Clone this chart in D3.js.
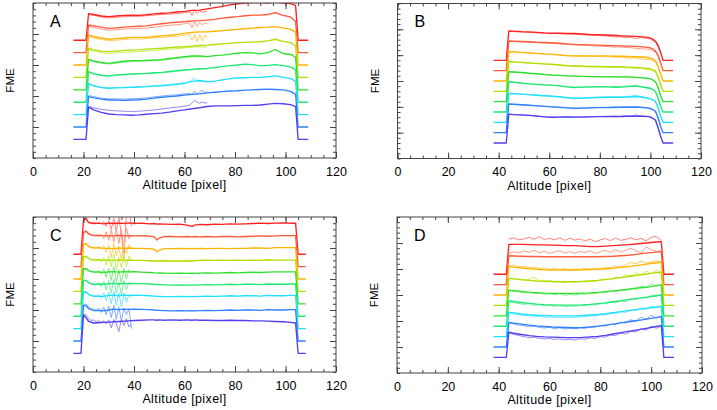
<!DOCTYPE html>
<html><head><meta charset="utf-8">
<script src="https://cdn.jsdelivr.net/npm/d3@7"></script>
<style>
body{margin:0;background:#fff;}
svg{display:block;}
text{font-family:"Liberation Sans",Arial,sans-serif;}
</style>
</head><body>
<svg id="chart" width="717" height="410"></svg>
<script>
// ---------- shared data ----------
const baselines = [3.8,3.4,3.0,2.6,2.2,1.8,1.4,1.0,0.6];
const thickColors = ["#ff2020","#ff5a3a","#ffb400","#b0e000","#30e030","#20e878","#20e0ff","#3080ff","#5040f0"];
const thinColors  = ["#ff8080","#ff9c86","#ffd060","#cdee55","#80ec80","#78f0aa","#70e8ff","#80acff","#9888f6"];
const xTicks = [0,20,40,60,80,100,120];
const xTitle = "Altitude  [pixel]";
const yTitle = "FME";

// ---------- panel A ----------
const aEdges = [16,21,105,109];
const aX = [22,24,27,30,33,36,39,42,45,48,51,54,57,60,63,66,69,72,75,78,81,84,87,90,93,96,99,102,104];
const aThick = [
 [4.66,4.63,4.58,4.56,4.58,4.60,4.61,4.60,4.62,4.65,4.67,4.68,4.71,4.73,4.76,4.77,4.81,4.85,4.89,4.94,4.97,5.00,5.02,5.01,5.00,5.03,5.00,4.98,4.92],
 [4.29,4.26,4.22,4.18,4.20,4.22,4.24,4.25,4.26,4.30,4.33,4.36,4.38,4.40,4.42,4.43,4.45,4.47,4.51,4.54,4.56,4.59,4.61,4.61,4.63,4.69,4.60,4.55,4.40],
 [3.97,3.92,3.87,3.83,3.85,3.87,3.89,3.89,3.89,3.92,3.94,3.96,3.99,4.02,4.05,4.07,4.07,4.09,4.11,4.13,4.15,4.17,4.19,4.21,4.22,4.24,4.20,4.15,4.05],
 [3.54,3.49,3.45,3.43,3.45,3.47,3.48,3.49,3.51,3.53,3.54,3.56,3.58,3.59,3.61,3.63,3.64,3.66,3.68,3.70,3.72,3.73,3.74,3.75,3.78,3.83,3.76,3.72,3.62],
 [3.18,3.13,3.08,3.05,3.09,3.12,3.14,3.14,3.15,3.16,3.17,3.21,3.24,3.27,3.29,3.29,3.27,3.30,3.32,3.35,3.38,3.40,3.39,3.36,3.40,3.50,3.37,3.34,3.25],
 [2.79,2.72,2.67,2.65,2.68,2.70,2.71,2.72,2.73,2.75,2.76,2.79,2.82,2.84,2.86,2.88,2.89,2.92,2.95,2.98,3.00,3.03,3.01,2.97,2.99,3.01,2.98,2.94,2.85],
 [2.41,2.33,2.27,2.25,2.26,2.27,2.28,2.29,2.30,2.32,2.33,2.35,2.38,2.41,2.47,2.50,2.46,2.48,2.52,2.56,2.58,2.59,2.60,2.60,2.62,2.65,2.61,2.56,2.48],
 [1.98,1.94,1.90,1.87,1.87,1.86,1.87,1.88,1.90,1.93,1.96,1.98,2.00,2.03,2.05,2.07,2.10,2.12,2.14,2.16,2.17,2.19,2.20,2.21,2.22,2.21,2.20,2.15,2.05],
 [1.64,1.55,1.47,1.42,1.40,1.39,1.38,1.39,1.41,1.43,1.45,1.48,1.52,1.55,1.59,1.62,1.66,1.68,1.68,1.68,1.69,1.70,1.70,1.71,1.74,1.76,1.75,1.72,1.66]
];
const aThinX = [22,24,27,30,33,36,39,42,45,48,51,54,57,60,62,63,64,65,66,67,68,69];
const aThin = [
 [4.63,4.60,4.55,4.52,4.54,4.56,4.57,4.57,4.59,4.61,4.63,4.64,4.66,4.69,4.72,4.60,4.78,4.66,4.74,4.70,4.73,4.72],
 [4.25,4.21,4.16,4.12,4.14,4.16,4.17,4.18,4.19,4.22,4.25,4.28,4.30,4.33,4.36,4.20,4.40,4.25,4.38,4.30,4.36,4.34],
 [3.93,3.87,3.82,3.79,3.80,3.82,3.84,3.84,3.85,3.87,3.89,3.91,3.93,3.96,3.98,3.80,4.00,3.75,3.98,3.78,3.95,3.90],
 [3.50,3.45,3.40,3.37,3.39,3.41,3.42,3.43,3.45,3.47,3.49,3.51,3.53,3.55,3.57,3.56,3.60,3.57,3.59,3.57,3.58,3.57],
 [3.16,3.11,3.06,3.03,3.06,3.09,3.11,3.12,3.13,3.14,3.16,3.19,3.21,3.24,3.26,3.25,3.28,3.26,3.28,3.26,3.27,3.26],
 [2.77,2.71,2.66,2.64,2.66,2.68,2.70,2.71,2.72,2.73,2.75,2.77,2.80,2.82,2.85,2.84,2.88,2.86,2.88,2.87,2.88,2.87],
 [2.40,2.33,2.28,2.26,2.27,2.28,2.29,2.30,2.31,2.33,2.35,2.37,2.39,2.42,2.46,2.53,2.58,2.50,2.47,2.48,2.47,2.46],
 [2.02,1.98,1.93,1.91,1.91,1.90,1.91,1.92,1.94,1.97,2.00,2.02,2.04,2.07,2.08,2.05,2.16,2.06,2.12,2.20,2.10,2.15],
 [1.66,1.62,1.57,1.54,1.52,1.51,1.50,1.51,1.53,1.55,1.58,1.61,1.64,1.67,1.70,1.78,1.86,1.80,1.77,1.80,1.78,1.77]
];

// ---------- panel B ----------
const bEdges = [38,43,105,109];
const bX = [44,46,49,52,55,58,61,64,67,70,73,76,79,82,85,88,91,94,97,99,100,101,102,103,104];
const bThick = [
 [4.94,4.93,4.91,4.90,4.88,4.86,4.85,4.85,4.84,4.84,4.82,4.80,4.79,4.78,4.77,4.75,4.74,4.73,4.71,4.69,4.66,4.62,4.54,4.38,4.12],
 [4.55,4.54,4.53,4.52,4.50,4.49,4.48,4.46,4.44,4.42,4.41,4.40,4.39,4.38,4.37,4.36,4.35,4.34,4.32,4.30,4.28,4.24,4.16,4.00,3.72],
 [4.14,4.13,4.11,4.09,4.07,4.05,4.04,4.01,3.98,3.97,3.97,3.97,3.97,3.97,3.96,3.96,3.95,3.94,3.93,3.91,3.89,3.85,3.78,3.58,3.28],
 [3.75,3.74,3.72,3.70,3.68,3.66,3.65,3.62,3.59,3.58,3.57,3.56,3.56,3.55,3.55,3.55,3.54,3.53,3.51,3.49,3.47,3.43,3.38,3.18,2.88],
 [3.36,3.35,3.33,3.30,3.28,3.25,3.23,3.22,3.20,3.19,3.18,3.17,3.17,3.16,3.16,3.16,3.16,3.14,3.12,3.10,3.08,3.04,2.97,2.77,2.44],
 [2.97,2.95,2.92,2.89,2.87,2.85,2.84,2.81,2.77,2.75,2.76,2.77,2.78,2.77,2.76,2.76,2.78,2.80,2.76,2.73,2.71,2.67,2.59,2.35,2.03],
 [2.52,2.51,2.49,2.47,2.45,2.43,2.41,2.39,2.35,2.33,2.33,2.35,2.36,2.37,2.37,2.37,2.38,2.40,2.37,2.33,2.31,2.27,2.20,1.96,1.64],
 [2.11,2.10,2.08,2.06,2.04,2.02,2.00,1.98,1.96,1.94,1.95,1.96,1.97,1.97,1.97,1.98,1.98,1.99,1.97,1.95,1.93,1.89,1.82,1.58,1.25],
 [1.72,1.70,1.69,1.67,1.64,1.61,1.59,1.60,1.61,1.60,1.60,1.61,1.62,1.62,1.62,1.62,1.63,1.64,1.63,1.62,1.60,1.55,1.48,1.20,0.87]
];
const bThinX = [44,48,52,56,60,64,68,72,76,80,84,86,88,90,92,94,96,98,100,102,103,104];
const bThin = [
 [4.92,4.90,4.88,4.86,4.84,4.83,4.82,4.80,4.78,4.76,4.73,4.70,4.72,4.67,4.70,4.64,4.68,4.66,4.62,4.50,4.33,4.08],
 [4.54,4.52,4.50,4.48,4.46,4.44,4.41,4.39,4.37,4.35,4.33,4.31,4.32,4.30,4.29,4.27,4.25,4.24,4.22,4.12,3.97,3.70],
 [4.13,4.11,4.08,4.06,4.03,4.00,3.97,3.96,3.95,3.95,3.94,3.92,3.93,3.90,3.88,3.90,3.86,3.84,3.83,3.74,3.55,3.26],
 [3.74,3.72,3.69,3.67,3.65,3.62,3.59,3.57,3.55,3.55,3.54,3.52,3.53,3.50,3.52,3.47,3.50,3.45,3.44,3.34,3.15,2.86],
 [3.35,3.33,3.30,3.27,3.24,3.22,3.20,3.18,3.17,3.17,3.16,3.17,3.15,3.17,3.14,3.15,3.12,3.11,3.09,2.96,2.76,2.43],
 [2.96,2.93,2.89,2.86,2.84,2.81,2.77,2.76,2.77,2.78,2.78,2.79,2.77,2.80,2.81,2.84,2.80,2.76,2.73,2.60,2.36,2.05],
 [2.51,2.49,2.47,2.44,2.42,2.39,2.35,2.34,2.35,2.37,2.38,2.39,2.38,2.40,2.41,2.44,2.41,2.36,2.33,2.21,1.97,1.66],
 [2.10,2.08,2.06,2.04,2.01,1.99,1.96,1.95,1.96,1.98,1.99,2.01,2.00,2.02,2.00,2.02,2.00,1.98,1.95,1.84,1.60,1.28],
 [1.71,1.69,1.67,1.64,1.61,1.61,1.61,1.61,1.62,1.63,1.64,1.65,1.64,1.66,1.65,1.68,1.66,1.64,1.62,1.50,1.22,0.90]
];

// ---------- panel C ----------
const cEdges = [16,19,105,108];
const cX = [20,21,22,24,26,28,30,32,34,36,38,40,43,46,48,49,50,52,55,58,61,63,64,66,69,72,75,78,81,84,87,90,93,96,99,102,104];
const cThick = [
 [4.90,4.96,4.82,4.79,4.80,4.78,4.80,4.79,4.80,4.79,4.81,4.79,4.80,4.78,4.79,4.77,4.78,4.77,4.76,4.77,4.74,4.70,4.74,4.76,4.75,4.77,4.76,4.78,4.77,4.78,4.79,4.80,4.79,4.80,4.81,4.80,4.80],
 [4.50,4.55,4.46,4.40,4.41,4.39,4.40,4.39,4.41,4.39,4.40,4.39,4.40,4.38,4.36,4.26,4.32,4.37,4.37,4.36,4.37,4.36,4.37,4.36,4.37,4.36,4.37,4.37,4.36,4.37,4.38,4.39,4.38,4.39,4.40,4.40,4.40],
 [4.12,4.15,4.05,4.00,4.01,3.99,3.99,3.98,4.00,3.99,4.00,3.99,3.99,3.98,3.96,3.88,3.93,3.98,3.98,3.99,3.98,3.99,3.98,3.99,3.98,3.99,3.99,3.98,3.99,3.99,4.00,4.00,3.99,4.01,4.01,4.01,4.01],
 [3.72,3.73,3.66,3.61,3.62,3.60,3.61,3.60,3.62,3.60,3.61,3.60,3.60,3.59,3.58,3.59,3.58,3.59,3.58,3.58,3.59,3.58,3.59,3.60,3.61,3.60,3.61,3.60,3.61,3.60,3.61,3.60,3.62,3.61,3.61,3.61,3.61],
 [3.33,3.34,3.27,3.22,3.23,3.21,3.23,3.24,3.22,3.24,3.23,3.24,3.22,3.21,3.20,3.19,3.20,3.19,3.18,3.19,3.18,3.19,3.18,3.19,3.20,3.19,3.20,3.21,3.20,3.21,3.22,3.21,3.22,3.23,3.23,3.23,3.23],
 [2.95,2.96,2.88,2.82,2.84,2.83,2.85,2.86,2.84,2.86,2.85,2.86,2.85,2.84,2.83,2.82,2.82,2.81,2.80,2.81,2.80,2.81,2.80,2.81,2.82,2.81,2.82,2.83,2.82,2.83,2.83,2.82,2.84,2.83,2.83,2.84,2.84],
 [2.58,2.59,2.50,2.44,2.45,2.44,2.47,2.48,2.46,2.48,2.47,2.48,2.47,2.46,2.45,2.44,2.44,2.43,2.43,2.44,2.43,2.44,2.43,2.44,2.45,2.44,2.45,2.46,2.45,2.46,2.46,2.45,2.47,2.46,2.46,2.47,2.47],
 [2.15,2.14,2.05,1.98,1.99,1.97,2.00,2.03,2.01,2.03,2.02,2.03,2.02,2.01,2.00,1.99,1.99,1.98,1.97,1.98,1.97,1.98,1.97,1.98,1.99,1.98,1.99,2.00,1.99,2.00,2.00,1.99,2.01,2.00,2.00,2.01,2.01],
 [1.84,1.75,1.63,1.58,1.59,1.60,1.61,1.62,1.63,1.64,1.65,1.66,1.67,1.68,1.68,1.67,1.68,1.67,1.68,1.67,1.68,1.67,1.68,1.67,1.67,1.66,1.66,1.67,1.66,1.66,1.65,1.65,1.64,1.63,1.62,1.60,1.58]
];
const cThinX = [20,21,22,23,24,25,26,27,28,29,30,31,32,33,34,35,36,37,38,39];
const cThin = [
 [4.90,4.92,4.84,4.80,4.82,4.79,4.81,4.78,4.85,4.70,4.88,4.60,4.95,4.55,4.98,4.45,3.65,5.10,5.30,4.70],
 [4.50,4.52,4.44,4.41,4.40,4.42,4.38,4.43,4.30,4.52,4.25,4.58,4.20,4.62,4.15,4.60,4.05,4.65,4.30,4.40],
 [4.10,4.12,4.04,4.00,4.02,3.98,4.03,3.95,4.08,3.85,4.10,3.70,4.15,3.75,4.05,3.60,4.20,3.80,4.10,3.95],
 [3.72,3.72,3.66,3.62,3.64,3.60,3.65,3.55,3.70,3.45,3.75,3.40,3.80,3.30,3.70,3.35,3.85,3.40,3.75,3.60],
 [3.33,3.33,3.27,3.23,3.25,3.21,3.27,3.15,3.32,3.05,3.35,2.95,3.40,2.90,3.30,2.85,3.35,3.00,3.30,3.20],
 [2.95,2.95,2.88,2.84,2.86,2.82,2.88,2.75,2.92,2.65,2.95,2.55,3.00,2.55,2.90,2.50,2.95,2.65,2.90,2.80],
 [2.58,2.58,2.50,2.46,2.48,2.44,2.50,2.38,2.55,2.30,2.58,2.20,2.60,2.15,2.55,2.10,2.55,2.25,2.50,2.40],
 [2.15,2.20,2.10,2.02,2.05,1.98,2.06,1.92,2.10,1.85,2.12,1.75,2.15,1.70,2.10,1.65,2.05,1.85,2.05,1.40],
 [1.84,1.85,1.72,1.66,1.68,1.62,1.66,1.60,1.65,1.55,1.68,1.42,1.70,1.55,1.30,1.70,1.50,1.72,1.45,1.55]
];

// ---------- panel D ----------
const dEdges = [38,43,105,109];
const dX = [44,46,49,52,55,58,61,64,67,70,73,76,79,82,85,88,91,94,97,100,102,104];
const dThick = [
 [4.95,4.95,4.95,4.94,4.93,4.93,4.92,4.91,4.90,4.90,4.88,4.86,4.86,4.88,4.90,4.92,4.94,4.96,4.99,5.02,5.04,5.05],
 [4.51,4.50,4.49,4.48,4.48,4.47,4.47,4.47,4.47,4.47,4.47,4.47,4.47,4.48,4.49,4.51,4.53,4.56,4.60,4.63,4.65,4.67],
 [4.09,4.07,4.04,4.01,3.99,3.97,3.96,3.96,3.96,3.96,3.97,3.98,3.99,4.01,4.03,4.06,4.09,4.13,4.17,4.21,4.24,4.26],
 [3.64,3.62,3.59,3.56,3.54,3.53,3.52,3.51,3.51,3.51,3.52,3.54,3.56,3.59,3.63,3.67,3.71,3.75,3.79,3.83,3.86,3.87],
 [3.19,3.17,3.14,3.11,3.09,3.07,3.06,3.06,3.06,3.06,3.07,3.08,3.10,3.13,3.16,3.19,3.22,3.26,3.29,3.32,3.36,3.39],
 [2.77,2.75,2.71,2.68,2.65,2.63,2.62,2.61,2.61,2.61,2.62,2.64,2.67,2.70,2.74,2.78,2.82,2.86,2.90,2.94,2.97,3.00],
 [2.33,2.31,2.27,2.24,2.22,2.21,2.20,2.20,2.20,2.20,2.21,2.23,2.25,2.28,2.32,2.36,2.40,2.44,2.47,2.51,2.53,2.55],
 [1.95,1.92,1.88,1.84,1.81,1.79,1.77,1.76,1.75,1.74,1.75,1.77,1.80,1.84,1.88,1.93,1.97,2.01,2.05,2.10,2.13,2.17],
 [1.57,1.53,1.48,1.44,1.41,1.39,1.38,1.37,1.36,1.36,1.37,1.39,1.41,1.45,1.50,1.55,1.60,1.65,1.70,1.75,1.79,1.82]
];
const dThinX = [44,46,48,50,52,54,56,58,60,62,64,66,68,70,72,74,76,78,80,82,84,86,88,90,92,94,96,98,100,102,104];
const dThin = [
 [5.15,5.20,5.12,5.16,5.22,5.14,5.24,5.13,5.18,5.12,5.20,5.10,5.19,5.11,5.16,5.08,5.15,5.05,5.12,5.17,5.09,5.19,5.10,5.14,5.20,5.12,5.18,5.08,5.22,5.25,5.10],
 [4.60,4.66,4.62,4.70,4.64,4.72,4.62,4.68,4.60,4.66,4.70,4.62,4.67,4.60,4.68,4.63,4.70,4.60,4.66,4.72,4.64,4.74,4.66,4.72,4.80,4.70,4.62,4.85,4.75,4.68,4.70],
 [4.12,4.15,4.08,4.10,4.05,4.08,4.02,4.05,3.99,4.03,3.98,4.02,3.97,4.00,3.98,4.03,3.99,4.04,4.01,4.07,4.05,4.12,4.08,4.16,4.25,4.20,4.30,4.22,4.28,4.32,4.28],
 [3.66,3.62,3.60,3.56,3.60,3.68,3.56,3.52,3.55,3.49,3.53,3.47,3.52,3.48,3.54,3.50,3.56,3.52,3.58,3.62,3.58,3.70,3.65,3.78,3.72,3.85,3.78,3.92,3.82,3.95,3.88],
 [3.18,3.14,3.12,3.08,3.10,3.05,3.08,3.03,3.05,3.01,3.04,2.99,3.02,3.00,3.04,3.02,3.07,3.05,3.10,3.08,3.14,3.12,3.20,3.17,3.26,3.22,3.35,3.28,3.42,3.34,3.40],
 [2.75,2.70,2.67,2.64,2.66,2.60,2.63,2.58,2.60,2.56,2.59,2.55,2.58,2.56,2.60,2.58,2.63,2.62,2.67,2.66,2.72,2.70,2.78,2.75,2.85,2.82,2.92,2.88,3.00,2.95,3.02],
 [2.32,2.27,2.23,2.20,2.22,2.16,2.18,2.14,2.16,2.13,2.15,2.12,2.15,2.13,2.17,2.16,2.20,2.19,2.24,2.23,2.29,2.28,2.35,2.33,2.42,2.40,2.50,2.46,2.58,2.52,2.60],
 [1.93,1.88,1.84,1.82,1.78,1.80,1.75,1.73,1.76,1.70,1.74,1.69,1.72,1.70,1.74,1.72,1.77,1.76,1.82,1.80,1.88,1.86,1.95,1.92,2.05,1.98,2.15,2.06,2.22,2.12,2.20],
 [1.54,1.48,1.44,1.40,1.36,1.38,1.33,1.31,1.33,1.29,1.31,1.28,1.30,1.27,1.32,1.30,1.35,1.33,1.40,1.38,1.46,1.44,1.53,1.50,1.60,1.58,1.70,1.65,1.80,1.72,1.80]
];

// ---------- layout (positions only) ----------
const panels = [
 {label:"A", x0:33,  x1:336, y0:3,   y1:158, yMax:5, edges:aEdges, gx:aX, thick:aThick, tx:aThinX, thin:aThin},
 {label:"B", x0:397.5,x1:701, y0:3.5, y1:158.5, yMax:6, edges:bEdges, gx:bX, thick:bThick, tx:bThinX, thin:bThin},
 {label:"C", x0:33,  x1:336, y0:217, y1:372, yMax:5, edges:cEdges, gx:cX, thick:cThick, tx:cThinX, thin:cThin},
 {label:"D", x0:397, x1:702, y0:217, y1:373, yMax:6, edges:dEdges, gx:dX, thick:dThick, tx:dThinX, thin:dThin}
];

const svg = d3.select("#chart");
const defs = svg.append("defs");
const axisColor = "#444";

panels.forEach(p => {
  const x = d3.scaleLinear().domain([0,120]).range([p.x0,p.x1]);
  const y = d3.scaleLinear().domain([0,p.yMax]).range([p.y1,p.y0]);
  const g = svg.append("g");
  const clipId = "clip" + p.label;
  defs.append("clipPath").attr("id", clipId).append("rect")
    .attr("x", p.x0).attr("y", p.y0).attr("width", p.x1-p.x0).attr("height", p.y1-p.y0);

  const line = d3.line().x(d => x(d[0])).y(d => y(d[1]));
  const plot = g.append("g").attr("clip-path", `url(#${clipId})`);

  // thin (secondary) profiles
  p.thin.forEach((vals,i) => {
    plot.append("path")
      .datum(p.tx.map((xx,j) => [xx, vals[j]]))
      .attr("d", line).attr("fill","none")
      .attr("stroke", thinColors[i]).attr("stroke-width", 1)
      .attr("stroke-linejoin","round");
  });
  // thick (main) profiles with baseline stubs
  p.thick.forEach((vals,i) => {
    const b = baselines[i];
    const pts = [[p.edges[0],b],[p.edges[1],b]]
      .concat(p.gx.map((xx,j) => [xx, vals[j]]))
      .concat([[p.edges[2],b],[p.edges[3],b]]);
    plot.append("path").datum(pts)
      .attr("d", line).attr("fill","none")
      .attr("stroke", thickColors[i]).attr("stroke-width", 1.35)
      .attr("stroke-linejoin","round");
  });

  // axes: box + inward ticks on all four sides
  const yMajor = d3.range(1, p.yMax, 1);
  const yMinor = d3.range(0, p.yMax*5+1).map(v => v/5);
  const xMinor = d3.range(0, 121, 5);

  const styleAxis = sel => {
    sel.select(".domain").remove();
    sel.selectAll(".tick line").attr("stroke", axisColor);
  };
  const addAxis = (axis, tx, ty, labels) => {
    const a = g.append("g").attr("transform", `translate(${tx},${ty})`).call(axis);
    styleAxis(a);
    if (!labels) a.selectAll(".tick text").remove();
    else a.selectAll(".tick text").attr("fill","#000").attr("font-size", 12.5)
           .attr("font-family", '"Liberation Sans",Arial,sans-serif');
    return a;
  };
  // bottom
  addAxis(d3.axisBottom(x).tickValues(xMinor).tickSizeInner(-3).tickSizeOuter(0).tickFormat(""), 0, p.y1, false);
  addAxis(d3.axisBottom(x).tickValues(xTicks).tickSizeInner(-6).tickSizeOuter(0).tickPadding(9).tickFormat(d3.format("d")), 0, p.y1, true);
  // top
  addAxis(d3.axisTop(x).tickValues(xMinor).tickSizeInner(-3).tickSizeOuter(0), 0, p.y0, false);
  addAxis(d3.axisTop(x).tickValues(xTicks).tickSizeInner(-6).tickSizeOuter(0), 0, p.y0, false);
  // left
  addAxis(d3.axisLeft(y).tickValues(yMinor).tickSizeInner(-3).tickSizeOuter(0), p.x0, 0, false);
  addAxis(d3.axisLeft(y).tickValues(yMajor).tickSizeInner(-6).tickSizeOuter(0), p.x0, 0, false);
  // right
  addAxis(d3.axisRight(y).tickValues(yMinor).tickSizeInner(-3).tickSizeOuter(0), p.x1, 0, false);
  addAxis(d3.axisRight(y).tickValues(yMajor).tickSizeInner(-6).tickSizeOuter(0), p.x1, 0, false);

  g.append("rect").attr("x", p.x0).attr("y", p.y0)
    .attr("width", p.x1-p.x0).attr("height", p.y1-p.y0)
    .attr("fill","none").attr("stroke", axisColor).attr("stroke-width", 1);

  // titles
  g.append("text").attr("x", (p.x0+p.x1)/2).attr("y", p.y1+31)
    .attr("text-anchor","middle").attr("font-size", 12.5).attr("letter-spacing", 0.4)
    .text(xTitle);
  g.append("text")
    .attr("transform", `translate(${p.x0-19},${(p.y0+p.y1)/2}) rotate(-90)`)
    .attr("text-anchor","middle").attr("font-size", 11.5).text(yTitle);
  g.append("text").attr("x", p.x0+17).attr("y", p.y0+23.5)
    .attr("font-size", 16).text(p.label);
});
</script>
</body></html>
